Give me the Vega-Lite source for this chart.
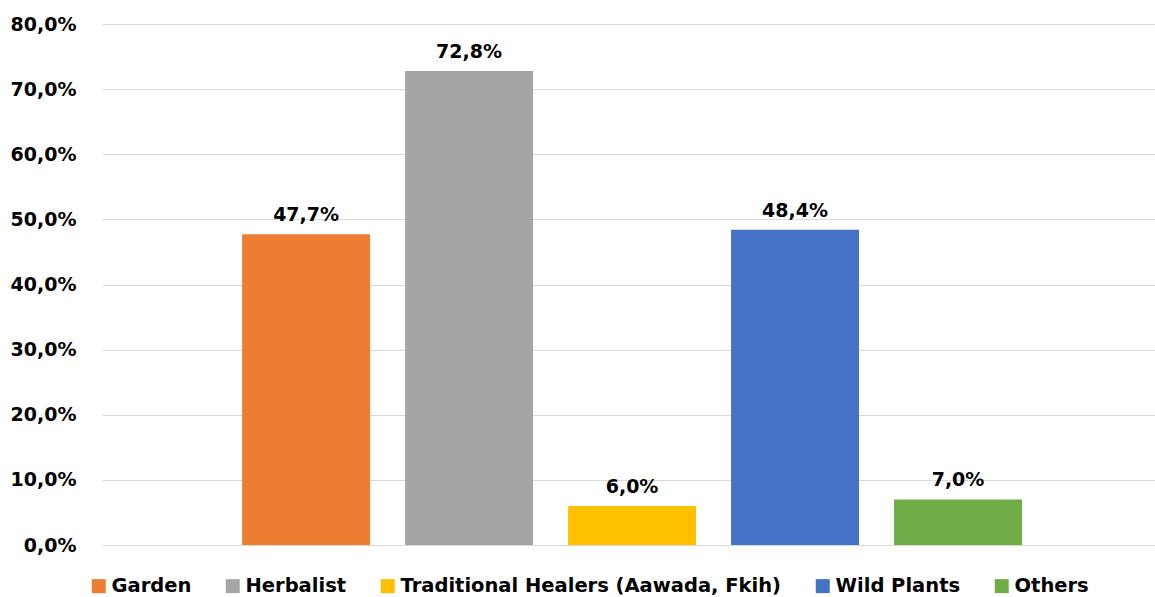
{
  "$schema": "https://vega.github.io/schema/vega-lite/v6.json",
  "width": 1053,
  "height": 521,
  "autosize": {"type": "none"},
  "padding": {"left": 102, "top": 24, "right": 0, "bottom": 52},
  "background": "white",
  "config": {
    "locale": {
      "number": {"decimal": ",", "thousands": ".", "grouping": [3], "currency": ["", " €"]}
    },
    "view": {"stroke": null},
    "font": "DejaVu Sans"
  },
  "data": {
    "values": [
      {"source": "Garden", "share": 0.477},
      {"source": "Herbalist", "share": 0.728},
      {"source": "Traditional Healers (Aawada, Fkih)", "share": 0.06},
      {"source": "Wild Plants", "share": 0.484},
      {"source": "Others", "share": 0.07}
    ]
  },
  "encoding": {
    "x": {
      "field": "source",
      "type": "nominal",
      "sort": null,
      "axis": null,
      "scale": {"paddingInner": 0.215, "paddingOuter": 0.838, "align": 0.513}
    },
    "y": {
      "field": "share",
      "type": "quantitative",
      "scale": {"domain": [0, 0.8], "nice": false},
      "axis": {
        "title": null,
        "format": ".1%",
        "values": [0, 0.1, 0.2, 0.3, 0.4, 0.5, 0.6, 0.7, 0.8],
        "labelOverlap": false,
        "ticks": false,
        "domain": false,
        "grid": true,
        "gridColor": "#D9D9D9",
        "gridWidth": 1,
        "labelPadding": 26,
        "labelFont": "DejaVu Sans",
        "labelFontWeight": "bold",
        "labelFontSize": 19,
        "labelColor": "#000000"
      }
    }
  },
  "layer": [
    {
      "mark": {"type": "bar"},
      "encoding": {
        "color": {
          "field": "source",
          "type": "nominal",
          "sort": null,
          "scale": {
            "domain": ["Garden", "Herbalist", "Traditional Healers (Aawada, Fkih)", "Wild Plants", "Others"],
            "range": ["#ED7D31", "#A5A5A5", "#FFC000", "#4472C4", "#70AD47"]
          },
          "legend": {
            "title": null,
            "orient": "none",
            "direction": "horizontal",
            "legendX": -13,
            "legendY": 552,
            "symbolType": "square",
            "symbolSize": 196,
            "symbolStrokeWidth": 0,
            "labelFont": "DejaVu Sans",
            "labelFontWeight": "bold",
            "labelFontSize": 19.5,
            "labelColor": "#000000",
            "labelOffset": 3,
            "columnPadding": 31,
            "labelLimit": 500
          }
        }
      }
    },
    {
      "mark": {
        "type": "text",
        "baseline": "bottom",
        "dy": -9,
        "font": "DejaVu Sans",
        "fontWeight": "bold",
        "fontSize": 19,
        "color": "#000000"
      },
      "encoding": {
        "text": {"field": "share", "type": "quantitative", "format": ".1%"}
      }
    }
  ]
}
